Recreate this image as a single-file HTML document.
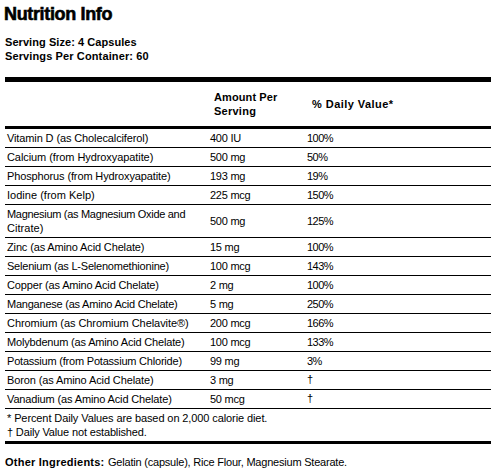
<!DOCTYPE html>
<html><head><meta charset="utf-8"><style>
html,body{margin:0;padding:0;background:#fff;width:500px;height:474px;overflow:hidden;position:relative}
body{font-family:"Liberation Sans",sans-serif;color:#000}
.t{position:absolute;font-size:11px;line-height:14px;white-space:nowrap;letter-spacing:-0.15px}
.b{position:absolute;font-size:11px;line-height:14px;white-space:nowrap;font-weight:bold}
.ln{position:absolute;left:5px;width:486px;background:#000}
.title{position:absolute;left:4px;top:4px;font-size:18px;line-height:20px;font-weight:bold;white-space:nowrap;-webkit-text-stroke:0.6px #000}
</style></head><body>
<div class="title" style="letter-spacing:-0.350px">Nutrition Info</div>
<div class="b" style="left:5px;top:35px;letter-spacing:0.060px">Serving Size: 4 Capsules</div>
<div class="b" style="left:5px;top:49px;letter-spacing:0.120px">Servings Per Container: 60</div>
<div class="ln" style="top:77px;height:5px"></div>
<div class="b" style="left:214px;top:90px;letter-spacing:0.100px">Amount Per</div>
<div class="b" style="left:214px;top:104px;letter-spacing:0.250px">Serving</div>
<div class="b" style="left:312px;top:97px;letter-spacing:0.450px">% Daily Value*</div>
<div class="ln" style="top:126px;height:3px"></div>
<div class="t" style="left:7px;top:131px;letter-spacing:-0.115px">Vitamin D (as Cholecalciferol)</div>
<div class="t" style="left:210px;top:131px;letter-spacing:-0.250px">400 IU</div>
<div class="t" style="left:307px;top:131px;letter-spacing:-0.500px">100%</div>
<div class="ln" style="top:147px;height:1px"></div>
<div class="t" style="left:7px;top:150px;letter-spacing:-0.079px">Calcium (from Hydroxyapatite)</div>
<div class="t" style="left:210px;top:150px;letter-spacing:-0.250px">500 mg</div>
<div class="t" style="left:307px;top:150px;letter-spacing:-0.500px">50%</div>
<div class="ln" style="top:166px;height:1px"></div>
<div class="t" style="left:7px;top:169px;letter-spacing:-0.125px">Phosphorus (from Hydroxyapatite)</div>
<div class="t" style="left:210px;top:169px;letter-spacing:-0.250px">193 mg</div>
<div class="t" style="left:307px;top:169px;letter-spacing:-0.500px">19%</div>
<div class="ln" style="top:185px;height:1px"></div>
<div class="t" style="left:7px;top:188px;letter-spacing:0.015px">Iodine (from Kelp)</div>
<div class="t" style="left:210px;top:188px;letter-spacing:-0.250px">225 mcg</div>
<div class="t" style="left:307px;top:188px;letter-spacing:-0.500px">150%</div>
<div class="ln" style="top:204px;height:1px"></div>
<div class="t" style="left:7px;top:207px;letter-spacing:-0.306px">Magnesium (as Magnesium Oxide and</div>
<div class="t" style="left:7px;top:221px;letter-spacing:0.050px">Citrate)</div>
<div class="t" style="left:210px;top:214px;letter-spacing:-0.250px">500 mg</div>
<div class="t" style="left:307px;top:214px;letter-spacing:-0.500px">125%</div>
<div class="ln" style="top:237px;height:1px"></div>
<div class="t" style="left:7px;top:240px;letter-spacing:-0.140px">Zinc (as Amino Acid Chelate)</div>
<div class="t" style="left:210px;top:240px;letter-spacing:-0.250px">15 mg</div>
<div class="t" style="left:307px;top:240px;letter-spacing:-0.500px">100%</div>
<div class="ln" style="top:256px;height:1px"></div>
<div class="t" style="left:7px;top:259px;letter-spacing:-0.215px">Selenium (as L-Selenomethionine)</div>
<div class="t" style="left:210px;top:259px;letter-spacing:-0.250px">100 mcg</div>
<div class="t" style="left:307px;top:259px;letter-spacing:-0.500px">143%</div>
<div class="ln" style="top:275px;height:1px"></div>
<div class="t" style="left:7px;top:278px;letter-spacing:-0.157px">Copper (as Amino Acid Chelate)</div>
<div class="t" style="left:210px;top:278px;letter-spacing:-0.250px">2 mg</div>
<div class="t" style="left:307px;top:278px;letter-spacing:-0.500px">100%</div>
<div class="ln" style="top:294px;height:1px"></div>
<div class="t" style="left:7px;top:297px;letter-spacing:-0.225px">Manganese (as Amino Acid Chelate)</div>
<div class="t" style="left:210px;top:297px;letter-spacing:-0.250px">5 mg</div>
<div class="t" style="left:307px;top:297px;letter-spacing:-0.500px">250%</div>
<div class="ln" style="top:313px;height:1px"></div>
<div class="t" style="left:7px;top:316px;letter-spacing:-0.056px">Chromium (as Chromium Chelavite&reg;)</div>
<div class="t" style="left:210px;top:316px;letter-spacing:-0.250px">200 mcg</div>
<div class="t" style="left:307px;top:316px;letter-spacing:-0.500px">166%</div>
<div class="ln" style="top:332px;height:1px"></div>
<div class="t" style="left:7px;top:335px;letter-spacing:-0.174px">Molybdenum (as Amino Acid Chelate)</div>
<div class="t" style="left:210px;top:335px;letter-spacing:-0.250px">100 mcg</div>
<div class="t" style="left:307px;top:335px;letter-spacing:-0.500px">133%</div>
<div class="ln" style="top:351px;height:1px"></div>
<div class="t" style="left:7px;top:354px;letter-spacing:-0.209px">Potassium (from Potassium Chloride)</div>
<div class="t" style="left:210px;top:354px;letter-spacing:-0.250px">99 mg</div>
<div class="t" style="left:307px;top:354px;letter-spacing:-0.500px">3%</div>
<div class="ln" style="top:370px;height:1px"></div>
<div class="t" style="left:7px;top:373px;letter-spacing:-0.114px">Boron (as Amino Acid Chelate)</div>
<div class="t" style="left:210px;top:373px;letter-spacing:-0.250px">3 mg</div>
<div class="t" style="left:307px;top:372px;letter-spacing:-0.500px">&dagger;</div>
<div class="ln" style="top:389px;height:1px"></div>
<div class="t" style="left:7px;top:392px;letter-spacing:-0.137px">Vanadium (as Amino Acid Chelate)</div>
<div class="t" style="left:210px;top:392px;letter-spacing:-0.250px">50 mcg</div>
<div class="t" style="left:307px;top:391px;letter-spacing:-0.500px">&dagger;</div>
<div class="ln" style="top:408px;height:1px"></div>
<div class="t" style="left:7px;top:411px;letter-spacing:-0.100px">* Percent Daily Values are based on 2,000 calorie diet.</div>
<div class="t" style="left:7px;top:425px;letter-spacing:-0.150px">&dagger; Daily Value not established.</div>
<div class="ln" style="top:441px;height:3px"></div>
<div class="b" style="left:5px;top:455px;letter-spacing:0.230px">Other Ingredients:</div>
<div class="t" style="left:108px;top:455px;letter-spacing:-0.210px">Gelatin (capsule), Rice Flour, Magnesium Stearate.</div>
</body></html>
